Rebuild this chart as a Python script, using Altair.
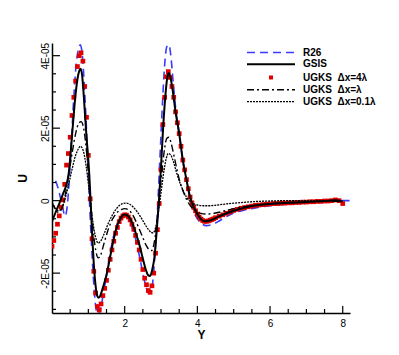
import altair as alt
import pandas as pd

# ---------------- data (U in units of 1E-05) ----------------
r26_x = [0.10, 0.18, 0.25, 0.30, 0.36, 0.42, 0.48, 0.54, 0.60, 0.66, 0.72, 0.78, 0.84, 0.90, 0.96,
         1.02, 1.08, 1.14, 1.20, 1.26, 1.32, 1.40, 1.50, 1.60, 1.70, 1.80, 1.90, 2.00, 2.10, 2.20,
         2.30, 2.40, 2.50, 2.58, 2.66, 2.74, 2.80, 2.86, 2.92, 2.98, 3.04, 3.10, 3.16, 3.22, 3.28,
         3.34, 3.42, 3.50, 3.60, 3.70, 3.80, 3.90, 4.00, 4.10, 4.25, 4.45, 4.60, 4.80, 5.00, 5.30,
         5.60, 6.00, 6.50, 7.00, 7.50, 8.00, 8.20]
r26_y = [0.55, 0.30, 0.00, -0.22, -0.43, -0.15, 0.65, 1.75, 2.85, 3.70, 4.15, 4.30, 3.95, 3.00, 1.70,
         0.25, -1.05, -2.15, -2.90, -3.15, -3.05, -2.65, -2.05, -1.45, -0.95, -0.62, -0.45, -0.40, -0.48, -0.70,
         -1.05, -1.50, -2.00, -2.35, -2.55, -2.45, -1.95, -1.05, 0.10, 1.40, 2.70, 3.75, 4.25, 4.30, 3.90,
         3.20, 2.40, 1.85, 1.10, 0.55, 0.05, -0.30, -0.50, -0.62, -0.69, -0.64, -0.56, -0.44, -0.34, -0.26,
         -0.20, -0.14, -0.09, -0.05, -0.02, 0.00, 0.00]

gsis_x = [0.00, 0.10, 0.20, 0.30, 0.40, 0.46, 0.52, 0.58, 0.64, 0.70, 0.75, 0.79, 0.83, 0.87, 0.91,
          0.95, 0.99, 1.03, 1.07, 1.11, 1.15, 1.20, 1.25, 1.29, 1.33, 1.40, 1.50, 1.60, 1.70, 1.80,
          1.90, 2.00, 2.10, 2.20, 2.30, 2.40, 2.50, 2.58, 2.64, 2.70, 2.76, 2.82, 2.88, 2.94, 3.00,
          3.06, 3.12, 3.17, 3.21, 3.26, 3.32, 3.40, 3.50, 3.60, 3.70, 3.80, 3.90, 4.00, 4.10, 4.20,
          4.35, 4.50, 4.70, 5.00, 5.50, 6.00, 6.50, 7.00, 7.50, 7.80, 8.00]
gsis_y = [-0.58, -0.32, -0.08, 0.18, 0.45, 0.75, 1.40, 2.15, 2.85, 3.35, 3.58, 3.64, 3.45, 2.95, 2.35,
          1.75, 1.25, 0.65, -0.20, -1.05, -1.75, -2.35, -2.64, -2.68, -2.62, -2.40, -2.05, -1.55, -1.05, -0.68,
          -0.46, -0.38, -0.43, -0.60, -0.88, -1.20, -1.60, -1.90, -2.05, -2.08, -1.90, -1.55, -0.85, -0.05, 0.95,
          2.05, 2.90, 3.38, 3.52, 3.40, 3.05, 2.45, 1.85, 1.12, 0.58, 0.10, -0.18, -0.37, -0.51, -0.57,
          -0.55, -0.48, -0.39, -0.28, -0.15, -0.09, -0.06, -0.04, -0.01, 0.01, -0.03]

ugks4_x = [0.00, 0.05, 0.10, 0.15, 0.20, 0.25, 0.30, 0.35, 0.40, 0.45, 0.50, 0.55, 0.60, 0.65, 0.70,
           0.75, 0.80, 0.85, 0.90, 0.95, 1.00, 1.05, 1.10, 1.15, 1.20, 1.25, 1.30, 1.35, 1.40, 1.45,
           1.50, 1.55, 1.60, 1.65, 1.70, 1.75, 1.80, 1.85, 1.90, 1.95, 2.00, 2.05, 2.10, 2.15, 2.20,
           2.25, 2.30, 2.35, 2.40, 2.45, 2.50, 2.55, 2.60, 2.65, 2.70, 2.75, 2.80, 2.85, 2.90, 2.95,
           3.00, 3.05, 3.10, 3.15, 3.20, 3.25, 3.30, 3.35, 3.40, 3.45, 3.50, 3.55, 3.60, 3.65, 3.70,
           3.75, 3.80, 3.85, 3.90, 3.95, 4.00, 4.05, 4.10, 4.15, 4.20, 4.25, 4.30, 4.35, 4.40, 4.45,
           4.50, 4.60, 4.70, 4.80, 4.90, 5.00, 5.10, 5.20, 5.30, 5.40, 5.50, 5.60, 5.70, 5.80, 5.90,
           6.00, 6.10, 6.20, 6.30, 6.40, 6.50, 6.60, 6.70, 6.80, 6.90, 7.00, 7.10, 7.20, 7.30, 7.40,
           7.50, 7.60, 7.70, 7.80, 7.90, 8.00]
ugks4_y = [-1.26, -1.10, -0.90, -0.65, -0.42, -0.18, 0.02, 0.45, 0.98, 1.30, 1.75, 2.35, 2.85, 3.30, 3.70,
           4.00, 4.08, 3.85, 3.15, 2.30, 1.25, 0.05, -1.05, -1.95, -2.55, -2.92, -3.02, -2.85, -2.62, -2.42,
           -2.20, -1.92, -1.62, -1.36, -1.12, -0.90, -0.74, -0.58, -0.48, -0.42, -0.39, -0.40, -0.45, -0.53, -0.65,
           -0.79, -0.96, -1.15, -1.36, -1.62, -1.90, -2.14, -2.32, -2.48, -2.53, -2.35, -2.00, -1.45, -0.80, -0.08,
           0.85, 2.10, 2.85, 3.42, 3.56, 3.40, 3.15, 2.85, 2.45, 2.15, 1.85, 1.50, 1.12, 0.85, 0.58,
           0.33, 0.10, -0.06, -0.18, -0.28, -0.37, -0.45, -0.51, -0.55, -0.57, -0.57, -0.56, -0.54, -0.52, -0.50,
           -0.47, -0.43, -0.39, -0.35, -0.31, -0.27, -0.24, -0.21, -0.19, -0.17, -0.15, -0.13, -0.12, -0.11, -0.10,
           -0.09, -0.08, -0.08, -0.07, -0.07, -0.06, -0.06, -0.05, -0.05, -0.04, -0.04, -0.03, -0.03, -0.02, -0.02,
           -0.01, -0.01, 0.00, 0.02, 0.00, -0.08]

ugks1_x = [0.00, 0.08, 0.16, 0.24, 0.32, 0.40, 0.48, 0.56, 0.64, 0.72, 0.80, 0.88, 0.96, 1.04, 1.12,
           1.20, 1.27, 1.34, 1.42, 1.52, 1.62, 1.72, 1.82, 1.92, 2.00, 2.10, 2.20, 2.30, 2.40, 2.50,
           2.60, 2.68, 2.74, 2.80, 2.86, 2.92, 2.98, 3.04, 3.10, 3.16, 3.22, 3.28, 3.36, 3.44, 3.52,
           3.60, 3.70, 3.80, 3.90, 4.00, 4.10, 4.25, 4.40, 4.60, 4.80, 5.00, 5.50, 6.00, 6.50, 7.00,
           7.50, 8.00]
ugks1_y = [-0.05, -0.22, -0.32, -0.28, -0.05, 0.35, 0.85, 1.35, 1.80, 2.10, 2.18, 1.95, 1.25, 0.25, -0.70,
           -1.35, -1.58, -1.50, -1.22, -0.88, -0.60, -0.42, -0.30, -0.24, -0.22, -0.25, -0.36, -0.55, -0.78, -1.02,
           -1.25, -1.36, -1.38, -1.22, -0.85, -0.30, 0.35, 0.95, 1.45, 1.72, 1.75, 1.58, 1.22, 0.85, 0.52,
           0.28, 0.04, -0.13, -0.24, -0.31, -0.35, -0.37, -0.36, -0.32, -0.27, -0.22, -0.14, -0.08, -0.05, -0.03,
           -0.02, -0.02]

ugks01_x = [0.00, 0.08, 0.16, 0.24, 0.32, 0.40, 0.48, 0.56, 0.64, 0.72, 0.78, 0.86, 0.94, 1.02, 1.10,
            1.18, 1.27, 1.36, 1.46, 1.56, 1.66, 1.76, 1.86, 1.96, 2.04, 2.14, 2.24, 2.34, 2.44, 2.54,
            2.64, 2.72, 2.78, 2.84, 2.90, 2.96, 3.02, 3.08, 3.14, 3.20, 3.26, 3.34, 3.42, 3.50, 3.60,
            3.70, 3.80, 3.90, 4.00, 4.15, 4.35, 4.55, 4.80, 5.00, 5.50, 6.00, 6.50, 7.00, 7.50, 8.00]
ugks01_y = [-0.05, -0.18, -0.28, -0.25, -0.08, 0.20, 0.55, 0.90, 1.22, 1.42, 1.50, 1.38, 0.95, 0.30, -0.40,
            -0.92, -1.17, -1.08, -0.85, -0.60, -0.40, -0.24, -0.13, -0.08, -0.07, -0.10, -0.18, -0.30, -0.45, -0.62,
            -0.78, -0.87, -0.89, -0.78, -0.50, -0.08, 0.38, 0.82, 1.15, 1.30, 1.27, 1.08, 0.80, 0.55, 0.30,
            0.10, -0.02, -0.09, -0.12, -0.14, -0.14, -0.12, -0.09, -0.07, -0.03, -0.01, 0.00, 0.00, 0.00, -0.01]

x_major_ticks = [2, 4, 6, 8]
x_minor_ticks = [0.5, 1, 1.5, 2.5, 3, 3.5, 4.5, 5, 5.5, 6.5, 7, 7.5]
y_major_ticks = [-2, 0, 2, 4]
y_minor_ticks = [-3, -2.5, -1.5, -1, -0.5, 0.5, 1, 1.5, 2.5, 3, 3.5]

legend_labels = ["R26", "GSIS", "UGKS\u00a0\u00a0\u0394x=4\u03bb",
                 "UGKS\u00a0\u00a0\u0394x=\u03bb", "UGKS\u00a0\u00a0\u0394x=0.1\u03bb"]

# ---------------- styling ----------------
W, H = 298, 270
FONT = "Liberation Sans"
BLUE = "#3b3bff"
RED = "#e00000"

xs = alt.Scale(domain=[0, 8.2], nice=False, zero=False)
ys = alt.Scale(domain=[-3.1, 4.35], nice=False, zero=False)

x_axis = alt.Axis(values=x_major_ticks, tickSize=0, grid=False, domainColor="black",
                  domainWidth=1.5, labelFont=FONT, labelFontSize=10, labelColor="black",
                  labelPadding=5, title="Y", titleFont=FONT, titleFontSize=12,
                  titleFontWeight="bold", titleColor="black", titlePadding=1)
y_axis = alt.Axis(values=y_major_ticks, tickSize=0, grid=False, domainColor="black",
                  domainWidth=1.5, labelFont=FONT, labelFontSize=10, labelColor="black",
                  labelAngle=270, labelAlign="center", labelBaseline="bottom", labelPadding=2,
                  labelExpr="datum.value == 0 ? '0' : datum.value + 'E-05'",
                  title="U", titleFont=FONT, titleFontSize=12, titleFontWeight="bold",
                  titleColor="black", titlePadding=11)

X = lambda f: alt.X(f, scale=xs, axis=x_axis)
Y = lambda f: alt.Y(f, scale=ys, axis=y_axis)


def line_df(name, xv, yv):
    return pd.DataFrame({"series": name, "x": xv, "y": yv})


blue_line = alt.Chart(line_df("R26", r26_x, r26_y)).mark_line(
    color=BLUE, strokeWidth=1.6, strokeDash=[8, 5], clip=True, interpolate="monotone"
).encode(x=X("x:Q"), y=Y("y:Q"))

squares = alt.Chart(line_df("UGKS 4", ugks4_x, ugks4_y)).mark_point(
    shape="square", filled=True, color=RED, size=22, opacity=1, clip=True
).encode(x=X("x:Q"), y=Y("y:Q"))

gsis_line = alt.Chart(line_df("GSIS", gsis_x, gsis_y)).mark_line(
    color="black", strokeWidth=2, clip=True, interpolate="monotone"
).encode(x=X("x:Q"), y=Y("y:Q"))

dashdot_line = alt.Chart(line_df("UGKS 1", ugks1_x, ugks1_y)).mark_line(
    color="black", strokeWidth=1.4, strokeDash=[7, 3, 2, 3], clip=True, interpolate="monotone"
).encode(x=X("x:Q"), y=Y("y:Q"))

dotted_line = alt.Chart(line_df("UGKS 0.1", ugks01_x, ugks01_y)).mark_line(
    color="black", strokeWidth=1.3, strokeDash=[2, 1], clip=True, interpolate="monotone"
).encode(x=X("x:Q"), y=Y("y:Q"))


# inward tick marks
def xticks(vals, length):
    return alt.Chart(pd.DataFrame({"v": vals})).mark_rule(color="black", strokeWidth=1.2).encode(
        x=X("v:Q"), y=alt.value(H), y2=alt.value(H - length))


def yticks(vals, length):
    return alt.Chart(pd.DataFrame({"v": vals})).mark_rule(color="black", strokeWidth=1.2).encode(
        y=Y("v:Q"), x=alt.value(0), x2=alt.value(length))


ticks = [xticks(x_major_ticks, 7), xticks(x_minor_ticks, 4),
         yticks(y_major_ticks, 8), yticks(y_minor_ticks, 4)]

# legend
one = pd.DataFrame({"d": [0]})
leg_y = [9.5, 21.2, 34.5, 46.8, 58.6]
lx0, lx1, ltx = 195, 243, 251
leg_layers = []
leg_layers.append(alt.Chart(one).mark_rule(color=BLUE, strokeWidth=1.6, strokeDash=[8, 5]).encode(
    x=alt.value(lx0), x2=alt.value(lx1), y=alt.value(leg_y[0])))
leg_layers.append(alt.Chart(one).mark_rule(color="black", strokeWidth=2).encode(
    x=alt.value(lx0), x2=alt.value(lx1), y=alt.value(leg_y[1])))
leg_layers.append(alt.Chart(one).mark_point(shape="square", filled=True, color=RED, size=16, opacity=1).encode(
    x=alt.value((lx0 + lx1) / 2), y=alt.value(leg_y[2])))
leg_layers.append(alt.Chart(one).mark_rule(color="black", strokeWidth=1.4, strokeDash=[7, 3, 2, 3]).encode(
    x=alt.value(lx0), x2=alt.value(lx1), y=alt.value(leg_y[3])))
leg_layers.append(alt.Chart(one).mark_rule(color="black", strokeWidth=1.3, strokeDash=[2, 1]).encode(
    x=alt.value(lx0), x2=alt.value(lx1), y=alt.value(leg_y[4])))
for lab, yy in zip(legend_labels, leg_y):
    leg_layers.append(alt.Chart(one).mark_text(
        align="left", baseline="middle", font=FONT, fontSize=10, fontWeight="bold", color="black"
    ).encode(x=alt.value(ltx), y=alt.value(yy), text=alt.value(lab)))

chart = alt.layer(
    blue_line, squares, gsis_line, dashdot_line, dotted_line, *ticks, *leg_layers
).properties(
    width=W, height=H,
    autosize=alt.AutoSizeParams(type="none"),
    padding={"left": 44, "top": 35, "right": 40, "bottom": 30},
    background="white",
).configure_view(stroke=None)

chart.save("out.html", embed_options={"renderer": "svg", "actions": False})
